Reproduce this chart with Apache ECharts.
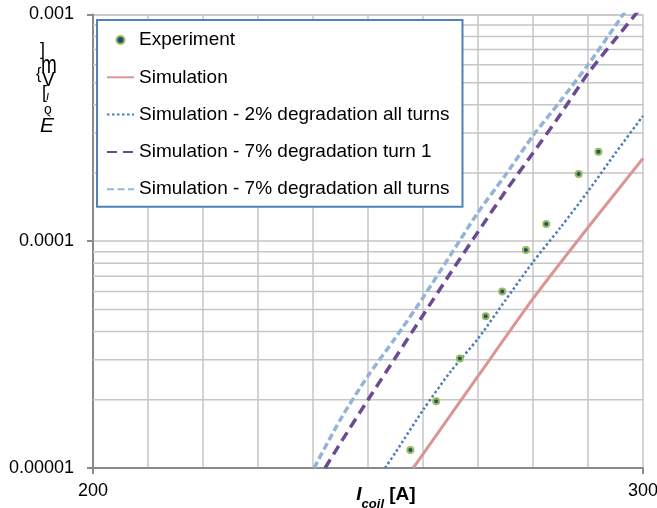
<!DOCTYPE html>
<html>
<head>
<meta charset="utf-8">
<style>
  html, body { margin: 0; padding: 0; background: #fff; }
  #chart { width: 657px; height: 508px; }
</style>
<script src="https://cdn.jsdelivr.net/npm/echarts@6/dist/echarts.min.js"></script>
</head>
<body>
<div id="chart"></div>
<script>
// Measured coil voltage vs coil current
const expCurrent = [257.7, 262.4, 266.7, 271.4, 274.4, 278.7, 282.4, 288.3, 291.9];
const expVoltage = [1.20e-5, 1.97e-5, 3.04e-5, 4.67e-5, 6.01e-5, 9.15e-5, 1.19e-4, 1.98e-4, 2.48e-4];

// Simulation, no degradation
const simCurrent = [258.2, 260, 270, 280, 290, 300];
const simVoltage = [1.0e-5, 1.15e-5, 2.54e-5, 5.58e-5, 1.15e-4, 2.32e-4];

// Simulation, 2% degradation in all turns
const sim2AllCurrent = [253.1, 255, 260, 265, 270, 275, 280, 285, 290, 295, 300];
const sim2AllVoltage = [1.0e-5, 1.17e-5, 1.80e-5, 2.66e-5, 3.72e-5, 5.5e-5, 8.1e-5, 1.15e-4, 1.66e-4, 2.45e-4, 3.57e-4];

// Simulation, 7% degradation in turn 1
const sim7T1Current = [242.2, 245, 250, 255, 260, 265, 270, 275, 280, 285, 290, 295, 300];
const sim7T1Voltage = [1.0e-5, 1.29e-5, 2.0e-5, 3.07e-5, 4.72e-5, 7.24e-5, 1.10e-4, 1.66e-4, 2.45e-4, 3.63e-4, 5.5e-4, 7.8e-4, 1.1e-3];

// Simulation, 7% degradation in all turns
const sim7AllCurrent = [240.2, 245, 250, 255, 260, 265, 270, 275, 280, 285, 290, 295, 300];
const sim7AllVoltage = [1.0e-5, 1.64e-5, 2.55e-5, 3.75e-5, 5.64e-5, 8.69e-5, 1.34e-4, 1.96e-4, 2.92e-4, 4.16e-4, 6.0e-4, 8.93e-4, 1.35e-3];

// Axis ranges and log-axis minor grid values
const xMin = 200, xMax = 300;
const yMin = 1e-5, yMax = 1e-3;
const minorGridValues = [2e-5, 3e-5, 4e-5, 5e-5, 6e-5, 7e-5, 8e-5, 9e-5,
                         2e-4, 3e-4, 4e-4, 5e-4, 6e-4, 7e-4, 8e-4, 9e-4];

const seriesNames = [
  'Experiment',
  'Simulation',
  'Simulation - 2% degradation all turns',
  'Simulation - 7% degradation turn 1',
  'Simulation - 7% degradation all turns'
];

const pairs = (xs, ys) => xs.map((x, i) => [x, ys[i]]);

const FONT = "'Liberation Sans', Arial, sans-serif";
const GRID_COLOR = '#c6c6c6';
const AXIS_COLOR = '#8a8a8a';

const chart = echarts.init(document.getElementById('chart'), null, { renderer: 'canvas' });

// Legend entries: line series show only their stroke, no marker
const hiddenMarker = { color: 'rgba(0,0,0,0)', borderWidth: 0, opacity: 0 };
const legendData = seriesNames.map((name, i) =>
  i === 0 ? { name } : { name, itemStyle: hiddenMarker }
);

chart.setOption({
  animation: false,
  backgroundColor: '#ffffff',
  textStyle: { fontFamily: FONT },
  grid: { left: 93, right: 14, top: 14.5, bottom: 40, containLabel: false, outerBoundsMode: 'none' },
  xAxis: [
    {
      type: 'value', min: xMin, max: xMax, interval: 100,
      axisLine: { show: true, lineStyle: { color: AXIS_COLOR, width: 2 } },
      axisTick: { show: true, length: 6, lineStyle: { color: AXIS_COLOR, width: 2 } },
      axisLabel: { color: '#000', fontSize: 18, fontFamily: FONT, margin: 14 },
      splitLine: { show: false },
      name: '{a|I}{b|coil}{c| [A]}',
      nameLocation: 'middle',
      nameGap: 16,
      nameMoveOverlap: false,
      nameTextStyle: {
        padding: [0, 0, 0, 36],
        rich: {
          a: { fontFamily: FONT, fontSize: 19, fontWeight: 'bold', fontStyle: 'italic', color: '#000', lineHeight: 22 },
          b: { fontFamily: FONT, fontSize: 13, fontWeight: 'bold', fontStyle: 'italic', color: '#000', lineHeight: 22, verticalAlign: 'bottom', padding: [0, 0, -5, 0] },
          c: { fontFamily: FONT, fontSize: 19, fontWeight: 'bold', color: '#000', lineHeight: 22 }
        }
      },
      z: 3
    },
    {
      type: 'value', min: xMin, max: xMax, interval: 10, position: 'bottom',
      axisLine: { show: false }, axisTick: { show: false }, axisLabel: { show: false },
      splitLine: { show: true, lineStyle: { color: GRID_COLOR, width: 1.5 } }
    }
  ],
  yAxis: {
    type: 'log', logBase: 10, min: yMin, max: yMax,
    axisLine: { show: true, lineStyle: { color: AXIS_COLOR, width: 2 } },
    axisTick: { show: true, length: 6, lineStyle: { color: AXIS_COLOR, width: 2 } },
    axisLabel: {
      color: '#000', fontSize: 18, fontFamily: FONT, margin: 19,
      formatter: v => v.toFixed(Math.round(-Math.log10(v)))
    },
    splitLine: { show: true, lineStyle: { color: GRID_COLOR, width: 1.5 } },
    minorTick: { show: false }
  },
  legend: {
    data: legendData,
    orient: 'vertical',
    left: 97, top: 20,
    padding: [10, 13, 7.5, 9],
    itemWidth: 27, itemHeight: 10, itemGap: 17.3,
    backgroundColor: '#ffffff',
    borderColor: '#4f81bd', borderWidth: 2,
    textStyle: { color: '#000', fontSize: 19, fontFamily: FONT, lineHeight: 20 },
    z: 10
  },
  graphic: [
    // vertical axis title glyphs
    { type: 'text', x: 40, y: 41, z: 5, style: { text: ']', font: '18px ' + FONT, fill: '#000' } },
    { type: 'text', x: 41, y: 52, z: 5, scaleY: 1.4, style: { text: 'm', font: '19px ' + FONT, fill: '#000' } },
    { type: 'text', x: 36, y: 67, z: 5, style: { text: '{', font: '16px ' + FONT, fill: '#000' } },
    { type: 'text', x: 42, y: 70, z: 5, scaleY: 1.1, style: { text: 'V', font: '19px ' + FONT, fill: '#000' } },
    { type: 'text', x: 42, y: 84, z: 5, style: { text: '[', font: '18px ' + FONT, fill: '#000' } },
    { type: 'text', x: 46, y: 91, z: 5, style: { text: 'ı', font: 'italic 12px ' + FONT, fill: '#000' } },
    { type: 'text', x: 44, y: 103, z: 5, style: { text: 'o', font: '14px ' + FONT, fill: '#000' } },
    { type: 'text', x: 40, y: 116, z: 5, style: { text: 'È', font: 'italic 21px ' + FONT, fill: '#000' } }
  ],
  series: [
    {
      // minor horizontal grid lines of the log axis
      type: 'custom', xAxisIndex: 0, silent: true, z: 1, clip: false,
      data: minorGridValues.map(v => [v]),
      encode: { y: 0 },
      renderItem: (params, api) => {
        const v = api.value(0);
        const p1 = api.coord([xMin, v]);
        const p2 = api.coord([xMax, v]);
        return {
          type: 'line',
          shape: { x1: p1[0], y1: p1[1], x2: p2[0], y2: p2[1] },
          style: { stroke: GRID_COLOR, lineWidth: 1.5 }
        };
      }
    },
    {
      name: seriesNames[0], type: 'line', xAxisIndex: 0,
      data: pairs(expCurrent, expVoltage),
      symbol: 'circle', symbolSize: 6, showSymbol: true,
      lineStyle: { width: 0, opacity: 0 },
      itemStyle: { color: '#1f4e79', borderColor: '#9bbb59', borderWidth: 2 },
      z: 6
    },
    {
      name: seriesNames[1], type: 'line', xAxisIndex: 0,
      data: pairs(simCurrent, simVoltage),
      symbol: 'none', smooth: 0.2,
      lineStyle: { color: '#d99694', width: 3, type: 'solid' },
      itemStyle: { color: '#d99694' },
      z: 3
    },
    {
      name: seriesNames[2], type: 'line', xAxisIndex: 0,
      data: pairs(sim2AllCurrent, sim2AllVoltage),
      symbol: 'none', smooth: 0.25,
      lineStyle: { color: '#4a7ebb', width: 2.5, type: [2.5, 2.5] },
      itemStyle: { color: '#4a7ebb' },
      z: 4
    },
    {
      name: seriesNames[3], type: 'line', xAxisIndex: 0,
      data: pairs(sim7T1Current, sim7T1Voltage),
      symbol: 'none', smooth: 0.25,
      lineStyle: { color: '#6a4c93', width: 3.5, type: [10, 6] },
      itemStyle: { color: '#6a4c93' },
      z: 4
    },
    {
      name: seriesNames[4], type: 'line', xAxisIndex: 0,
      data: pairs(sim7AllCurrent, sim7AllVoltage),
      symbol: 'none', smooth: 0.25,
      lineStyle: { color: '#95b3d7', width: 3.5, type: [7, 3.5] },
      itemStyle: { color: '#95b3d7' },
      z: 4
    }
  ]
});
</script>
</body>
</html>
